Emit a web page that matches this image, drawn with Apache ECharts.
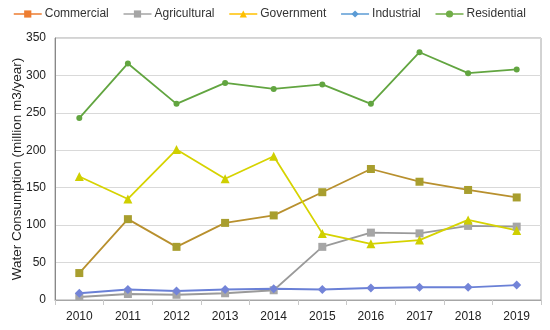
<!DOCTYPE html>
<html><head><meta charset="utf-8">
<script src="https://cdn.jsdelivr.net/npm/echarts@6/dist/echarts.min.js"></script>
<style>html,body{margin:0;padding:0;background:#fff}#c{width:550px;height:330px}</style>
</head><body><div id="c"></div>
<script>
const years = ['2010','2011','2012','2013','2014','2015','2016','2017','2018','2019'];
const commercial   = [36, 108, 71, 103, 113, 144, 175, 158, 147, 137];
const agricultural = [4, 8, 7, 9, 13, 71, 90, 89, 99, 98];
const government   = [165, 135, 201, 162, 192, 89, 75, 80, 107, 93];
const industrial   = [9, 14, 12, 14, 15, 14, 16, 17, 17, 20];
const residential  = [243, 316, 262, 290, 282, 288, 262, 331, 303, 308];
const yTicks = [0, 50, 100, 150, 200, 250, 300, 350];

const font = 'Liberation Sans, DejaVu Sans, sans-serif';
const chart = echarts.init(document.getElementById('c'), null, {renderer:'canvas'});
function s(name, data, lineColor, markColor, symbol, size){
  return {name, type:'line', data, symbol, symbolSize:size,
    lineStyle:{color:lineColor, width:1.8},
    itemStyle:{color:markColor}, emphasis:{disabled:true}, animation:false};
}
function li(name, color){
  return {name, itemStyle:{color:color}, lineStyle:{color:color, width:1.5}};
}
chart.setOption({
  animation:false,
  legend:{left:8, top:3, itemWidth:28, itemHeight:9, itemGap:14,
    textStyle:{fontFamily:font, fontSize:12, color:'#333', padding:[0,0,0,-2]},
    data:[li('Commercial','#ED7D31'), li('Agricultural','#A5A5A5'), li('Government','#FFC000'),
          li('Industrial','#5B9BD5'), li('Residential','#70AD47')]},
  grid:{left:55, right:9, top:38, bottom:30, show:true, borderColor:'#a6a6a6', borderWidth:1,
    containLabel:false, outerBoundsMode:'none'},
  xAxis:{type:'category', data:years, boundaryGap:true,
    axisLine:{lineStyle:{color:'#a6a6a6'}},
    axisTick:{show:true, alignWithLabel:false, lineStyle:{color:'#c8c8c8'}},
    axisLabel:{fontFamily:font, fontSize:12, color:'#222', margin:11}},
  yAxis:{type:'value', min:yTicks[0], max:yTicks[yTicks.length-1], interval:50,
    name:'Water Consumption (million m3/year)', nameLocation:'middle', nameGap:31,
    nameMoveOverlap:false,
    nameTextStyle:{fontFamily:font, fontSize:13.5, color:'#222'},
    axisLine:{show:true, lineStyle:{color:'#888'}}, axisTick:{show:false},
    splitLine:{lineStyle:{color:'#d9d9d9'}},
    axisLabel:{fontFamily:font, fontSize:12, color:'#222', margin:9}},
  series:[
    s('Commercial', commercial, '#B8902E', '#A89E2E', 'rect', 8),
    s('Agricultural', agricultural, '#9a9a9a', '#a6a6a6', 'rect', 8),
    s('Government', government, '#D6D300', '#CFCF00', 'triangle', 9),
    s('Industrial', industrial, '#6A80D6', '#7384D8', 'diamond', 9),
    s('Residential', residential, '#62A540', '#62A540', 'circle', 6)
  ]
});
</script></body></html>
